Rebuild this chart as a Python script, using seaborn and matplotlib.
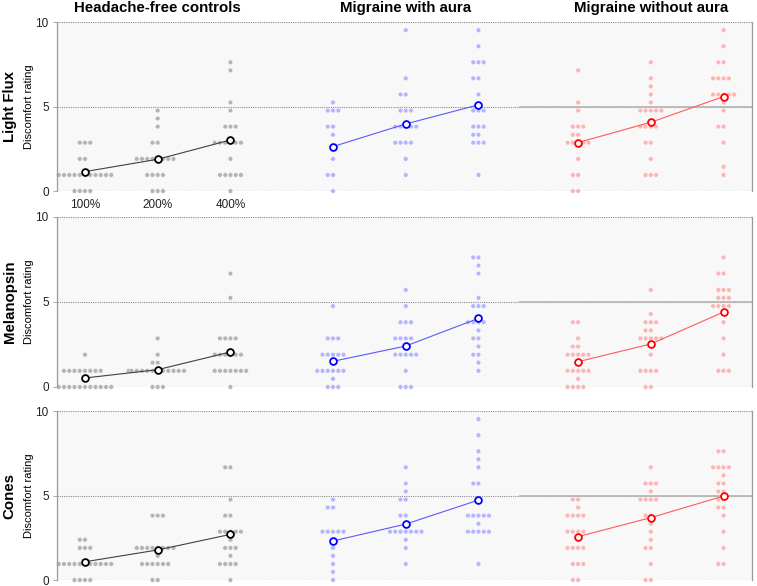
import pandas as pd
import seaborn as sns
import matplotlib.pyplot as plt

plt.rcParams["font.family"] = ["Liberation Sans", "DejaVu Sans"]

levels = ["100%", "200%", "400%"]
groups = ["Headache-free controls", "Migraine with aura", "Migraine without aura"]
rows = ["Light Flux", "Melanopsin", "Cones"]

# discomfort ratings, one list per stimulus contrast
flux_ctrl_100 = [2.86, 2.86, 2.86, 1.9, 1.9, 0.95, 0.95, 0.95, 0.95, 0.95, 0.95, 0.95, 0.95, 0.95, 0.95, 0.95, 0, 0, 0, 0]
flux_ctrl_200 = [4.76, 4.29, 3.81, 2.86, 2.86, 1.9, 1.9, 1.9, 1.9, 1.9, 1.9, 1.9, 1.9, 0.95, 0.95, 0.95, 0.95, 0, 0, 0]
flux_ctrl_400 = [7.62, 7.14, 5.24, 4.76, 3.81, 3.81, 3.81, 2.86, 2.86, 2.86, 2.86, 2.86, 2.86, 1.9, 0.95, 0.95, 0.95, 0.95, 0.95, 0]
flux_mwa_100 = [5.24, 4.76, 4.76, 4.76, 3.81, 3.81, 3.33, 1.9, 0.95, 0.95, 0]
flux_mwa_200 = [9.52, 6.67, 5.71, 5.71, 4.76, 4.76, 4.76, 3.81, 3.81, 3.81, 3.81, 3.81, 2.86, 2.86, 2.86, 2.86, 1.9, 0.95]
flux_mwa_400 = [9.52, 8.57, 7.62, 7.62, 7.62, 6.67, 6.67, 5.71, 4.76, 4.76, 4.76, 3.81, 3.81, 3.81, 3.33, 3.33, 2.86, 2.86, 2.86, 0.95]
flux_mwoa_100 = [7.14, 5.24, 4.76, 3.81, 3.81, 3.81, 3.33, 3.33, 2.86, 2.86, 2.86, 2.86, 2.86, 1.9, 0.95, 0.95, 0, 0]
flux_mwoa_200 = [7.62, 6.67, 6.19, 5.71, 5.24, 4.76, 4.76, 4.76, 4.76, 4.76, 3.81, 3.81, 3.81, 3.81, 2.86, 2.86, 1.9, 0.95, 0.95, 0.95]
flux_mwoa_400 = [9.52, 8.57, 7.62, 7.62, 6.67, 6.67, 6.67, 6.67, 5.71, 5.71, 5.71, 5.71, 5.71, 5.24, 4.76, 3.81, 3.81, 2.86, 1.43, 0.95]

mel_ctrl_100 = [1.9, 0.95, 0.95, 0.95, 0.95, 0.95, 0.95, 0.95, 0.95, 0, 0, 0, 0, 0, 0, 0, 0, 0, 0, 0]
mel_ctrl_200 = [2.86, 1.9, 1.43, 1.43, 0.95, 0.95, 0.95, 0.95, 0.95, 0.95, 0.95, 0.95, 0.95, 0.95, 0.95, 0.95, 0, 0, 0]
mel_ctrl_400 = [6.67, 5.24, 2.86, 2.86, 2.86, 2.86, 1.9, 1.9, 1.9, 1.9, 1.9, 1.9, 0.95, 0.95, 0.95, 0.95, 0.95, 0.95, 0.95, 0]
mel_mwa_100 = [4.76, 2.86, 2.86, 2.86, 1.9, 1.9, 1.9, 1.9, 1.9, 0.95, 0.95, 0.95, 0.95, 0.95, 0.95, 0.48, 0, 0, 0]
mel_mwa_200 = [5.71, 4.76, 3.81, 3.81, 3.81, 2.86, 2.86, 2.86, 2.86, 2.38, 1.9, 1.9, 1.9, 1.9, 1.9, 0.95, 0, 0, 0]
mel_mwa_400 = [7.62, 7.62, 7.14, 6.67, 5.24, 4.76, 4.76, 4.76, 3.81, 3.81, 3.81, 3.81, 3.33, 2.86, 2.86, 2.38, 1.9, 1.9, 1.43, 0.95]
mel_mwoa_100 = [3.81, 3.81, 2.86, 2.38, 2.38, 1.9, 1.9, 1.9, 1.9, 1.9, 0.95, 0.95, 0.95, 0.95, 0.95, 0.48, 0, 0, 0, 0]
mel_mwoa_200 = [5.71, 4.29, 3.81, 3.81, 3.81, 3.33, 3.33, 2.86, 2.86, 2.86, 2.86, 2.86, 1.9, 0.95, 0.95, 0.95, 0.95, 0, 0]
mel_mwoa_400 = [7.62, 6.67, 6.67, 5.71, 5.71, 5.71, 5.24, 5.24, 5.24, 4.76, 4.76, 4.76, 4.76, 3.81, 2.86, 1.9, 0.95, 0.95, 0.95]

cone_ctrl_100 = [2.38, 2.38, 1.9, 1.9, 1.9, 0.95, 0.95, 0.95, 0.95, 0.95, 0.95, 0.95, 0.95, 0.95, 0.95, 0.95, 0, 0, 0, 0]
cone_ctrl_200 = [3.81, 3.81, 3.81, 1.9, 1.9, 1.9, 1.9, 1.9, 1.9, 1.9, 1.9, 1.43, 0.95, 0.95, 0.95, 0.95, 0.95, 0.95, 0, 0]
cone_ctrl_400 = [6.67, 6.67, 4.76, 3.81, 3.81, 2.86, 2.86, 2.86, 2.86, 2.86, 2.38, 1.9, 1.9, 1.9, 1.43, 0.95, 0.95, 0.95, 0.95, 0]
cone_mwa_100 = [4.76, 4.29, 4.29, 2.86, 2.86, 2.86, 2.86, 2.86, 1.9, 1.43, 0.95, 0.48, 0]
cone_mwa_200 = [6.67, 5.71, 5.24, 4.76, 4.76, 3.81, 3.81, 2.86, 2.86, 2.86, 2.86, 2.86, 2.86, 2.86, 2.38, 1.9, 0.95]
cone_mwa_400 = [9.52, 8.57, 7.62, 7.14, 6.67, 5.71, 5.71, 3.81, 3.81, 3.81, 3.81, 3.81, 3.33, 2.86, 2.86, 2.86, 2.86, 2.86, 0.95]
cone_mwoa_100 = [4.76, 4.76, 4.29, 3.81, 3.81, 3.81, 3.81, 2.86, 2.86, 2.86, 2.86, 1.9, 1.9, 1.9, 1.9, 0.95, 0.95, 0.95, 0, 0]
cone_mwoa_200 = [6.67, 5.71, 5.71, 5.71, 5.24, 4.76, 4.76, 4.76, 4.76, 3.81, 3.81, 3.33, 2.86, 2.38, 1.9, 1.9, 0.95, 0, 0]
cone_mwoa_400 = [7.62, 7.62, 6.67, 6.67, 6.67, 6.67, 6.19, 5.71, 5.71, 5.24, 5.24, 4.76, 4.76, 4.29, 4.29, 3.81, 2.86, 1.9, 0.95, 0.95]

# group means (open circles)
flux_means = [[1.15, 1.88, 3.02], [2.63, 3.97, 5.10], [2.87, 4.07, 5.59]]
mel_means = [[0.53, 1.02, 2.06], [1.51, 2.41, 4.04], [1.49, 2.53, 4.41]]
cone_means = [[1.08, 1.78, 2.70], [2.31, 3.31, 4.73], [2.57, 3.69, 4.97]]

ratings = {
    "Light Flux": [[flux_ctrl_100, flux_ctrl_200, flux_ctrl_400],
                   [flux_mwa_100, flux_mwa_200, flux_mwa_400],
                   [flux_mwoa_100, flux_mwoa_200, flux_mwoa_400]],
    "Melanopsin": [[mel_ctrl_100, mel_ctrl_200, mel_ctrl_400],
                   [mel_mwa_100, mel_mwa_200, mel_mwa_400],
                   [mel_mwoa_100, mel_mwoa_200, mel_mwoa_400]],
    "Cones": [[cone_ctrl_100, cone_ctrl_200, cone_ctrl_400],
              [cone_mwa_100, cone_mwa_200, cone_mwa_400],
              [cone_mwoa_100, cone_mwoa_200, cone_mwoa_400]],
}
means = {"Light Flux": flux_means, "Melanopsin": mel_means, "Cones": cone_means}

# layout
centres = [[0, 1, 2], [3.41, 4.41, 5.41], [6.78, 7.78, 8.78]]
dot_colors = dict(zip(groups, ["#b4b4b4", "#b4b4ff", "#ffb4b4"]))
ring_colors = ["#000000", "#0000ff", "#ff0000"]
line_colors = ["#404040", "#5a5aff", "#ff5a5a"]
bg = "#f8f8f8"
boxes = [(0.0753, 0.674, 0.918, 0.2884),
         (0.0753, 0.3396, 0.918, 0.2901),
         (0.0753, 0.0102, 0.918, 0.2884)]

fig = plt.figure(figsize=(7.57, 5.86), dpi=100)

for r, row in enumerate(rows):
    ax = fig.add_axes(boxes[r])
    ax.set_facecolor(bg)

    recs = []
    for g, grp in enumerate(groups):
        for l in range(3):
            for v in ratings[row][g][l]:
                recs.append({"pos": centres[g][l], "rating": v, "group": grp})
    df = pd.DataFrame(recs)

    sns.swarmplot(
        data=df, x="pos", y="rating", hue="group", palette=dot_colors,
        native_scale=True, orient="x", size=3.3, linewidth=0.3,
        edgecolor=bg, legend=False, ax=ax, zorder=2,
    )

    for g in range(3):
        ax.plot(centres[g], means[row][g], color=line_colors[g], lw=0.8, zorder=3)
        ax.scatter(centres[g], means[row][g], s=24, facecolor="white",
                   edgecolor=ring_colors[g], linewidths=1.3, zorder=4)
    for c in ax.collections:
        c.set_clip_on(False)

    ax.set_xlim(-0.385, 9.17)
    ax.set_ylim(0, 10)
    ax.set_xlabel("")
    ax.set_ylabel("")

    # dotted reference lines, solid segment on the right-hand group
    for yv in [0, 5, 10]:
        ax.axhline(yv, color="#8c8c8c", ls=(0, (1, 1)), lw=0.8, zorder=1)
    ax.axhline(5, xmin=0.666, xmax=1, color="#b8b8b8", lw=1.3, zorder=1)

    for s in ["top", "bottom"]:
        ax.spines[s].set_visible(False)
    for s in ["left", "right"]:
        ax.spines[s].set_color("#9a9a9a")
        ax.spines[s].set_linewidth(0.9)

    ax.set_yticks([0, 5, 10], ["0", "5", "10"])
    ax.tick_params(axis="y", length=3, width=0.6, color="#9a9a9a", pad=3,
                   labelsize=8.5, labelcolor="#222222")
    if r == 0:
        ax.set_xticks(centres[0], levels)
        ax.tick_params(axis="x", length=0, pad=6, labelsize=8.5, labelcolor="#222222")
        for g, grp in enumerate(groups):
            ax.text(centres[g][1], 10.83, grp, ha="center", va="center",
                    fontsize=10.8, fontweight="bold")
    else:
        ax.set_xticks([])

    yc = boxes[r][1] + boxes[r][3] / 2
    fig.text(0.013, yc, row, rotation=90, ha="center", va="center",
             fontsize=10.8, fontweight="bold")
    fig.text(0.038, yc, "Discomfort rating", rotation=90, ha="center",
             va="center", fontsize=8)

plt.savefig("out.png", dpi=100)
